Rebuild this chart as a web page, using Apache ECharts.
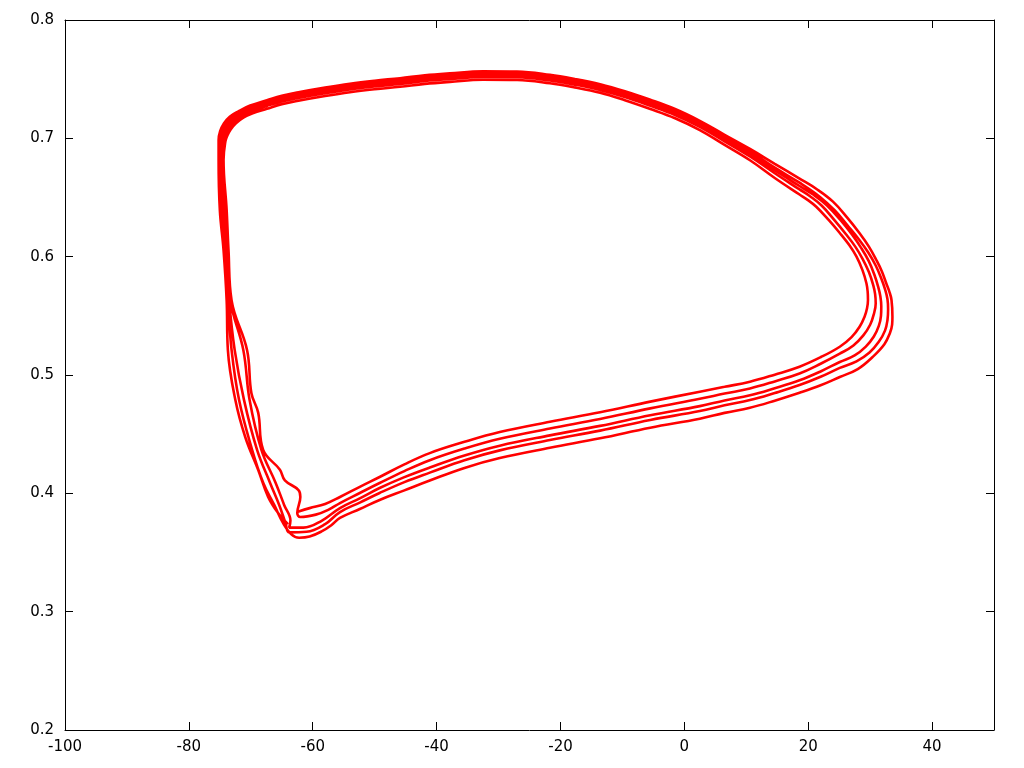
<!DOCTYPE html>
<html>
<head>
<meta charset="utf-8">
<script src="https://cdn.jsdelivr.net/npm/echarts@6/dist/echarts.min.js"></script>
<style>
html,body{margin:0;padding:0;background:#fff;}
#chart{width:1024px;height:768px;}
</style>
</head>
<body>
<div id="chart"></div>
<script>
// Axis tick labels
const xTicks = [-100, -80, -60, -40, -20, 0, 20, 40];
const yTicks = [0.2, 0.3, 0.4, 0.5, 0.6, 0.7, 0.8];

// Trajectory: one array per loop, [x, y] pairs
const loop1 = [
  [-62.4,0.3845],[-60.5,0.3875],[-58.0,0.391],[-55.6,0.3969],[-52.4,0.4055],[-49.2,0.4138],[-45.2,0.4245],[-41.1,0.434],
  [-35.5,0.4435],[-29.8,0.4518],[-21.7,0.4605],[-13.6,0.4685],[-5.5,0.4775],[2.5,0.4859],[6.5,0.490],[10.6,0.4943],
  [14.6,0.5003],[18.6,0.507],[22.0,0.515],[25.1,0.5239],
  [27.0,0.532],[28.3,0.5408],[29.1,0.5493],[29.5,0.5564],[29.65,0.5634],[29.6,0.5705],[29.4,0.5775],[28.75,0.5888],
  [27.8,0.60],[26.6,0.61],[25.1,0.62],[23.3,0.631],[21.3,0.6422],[19.9,0.648],[18.6,0.6525],
  [14.6,0.6665],[10.6,0.6815],[6.5,0.6945],[2.5,0.707],[-1.5,0.717],[-5.6,0.725],[-9.6,0.7322],[-13.6,0.7385],
  [-17.7,0.743],[-21.7,0.7465],[-27.0,0.7493],[-32.5,0.7495],[-37.85,0.7477],[-41.9,0.746],[-45.9,0.7436],[-50.0,0.7415],
  [-54.0,0.739],[-58.0,0.7358],[-62.1,0.732],[-65.0,0.7288],[-67.4,0.725],
  [-69.7,0.7212],[-71.2,0.7175],[-72.4,0.7127],[-73.25,0.7075],[-73.8,0.7022],[-74.1,0.6975],
  [-74.4,0.682],[-73.9,0.6394],[-73.6,0.6056],[-73.1,0.563],[-70.6,0.521],[-69.9,0.4846],[-68.8,0.468],
  [-68.0,0.4366],[-65.3,0.420],[-64.5,0.411],[-62.3,0.4028],[-62.0,0.397],[-62.5,0.3834]
];
const loop2 = [
  [-62.0,0.380],[-59.5,0.382],[-57.5,0.386],[-55.6,0.3918],[-52.4,0.4003],[-49.2,0.4087],[-45.2,0.4188],[-41.1,0.428],
  [-35.5,0.4378],[-29.8,0.4461],[-21.7,0.4548],[-13.6,0.4628],[-5.5,0.4718],[2.5,0.4799],[6.5,0.4843],[10.6,0.4886],
  [14.6,0.4946],[18.6,0.5013],[22.0,0.5095],[25.1,0.518],
  [27.3,0.525],[28.9,0.5335],[30.0,0.5425],[30.6,0.5515],[30.9,0.5605],[30.8,0.5685],[30.5,0.576],[29.8,0.587],
  [28.8,0.598],[27.6,0.6085],[26.1,0.619],[24.3,0.6305],[22.2,0.643],[20.3,0.651],[18.6,0.6568],
  [14.6,0.6705],[10.6,0.6847],[6.5,0.6975],[2.5,0.7097],[-1.5,0.7197],[-5.6,0.7277],[-9.6,0.7349],[-13.6,0.7409],
  [-17.7,0.7454],[-21.7,0.7489],[-27.0,0.7517],[-32.5,0.7519],[-37.85,0.7501],[-41.9,0.7484],[-45.9,0.746],[-50.0,0.7439],
  [-54.0,0.7414],[-58.0,0.7382],[-62.1,0.7344],[-65.0,0.7312],[-67.4,0.7274],
  [-69.8,0.7231],[-71.4,0.7188],[-72.65,0.7141],[-73.5,0.7088],[-74.1,0.7031],[-74.4,0.6978],
  [-74.6,0.682],[-74.3,0.6394],[-73.8,0.6056],[-73.3,0.563],[-71.2,0.521],[-70.2,0.479],[-68.3,0.437],
  [-66.0,0.409],[-64.6,0.39],[-63.6,0.377]
];
const loop3 = [
  [-63.8,0.371],[-61.5,0.371],[-58.5,0.377],[-55.6,0.3876],[-52.4,0.3958],[-49.2,0.4045],[-45.2,0.4137],[-41.1,0.4218],
  [-35.5,0.432],[-29.8,0.4403],[-21.7,0.449],[-13.6,0.457],[-5.5,0.466],[2.5,0.4737],[6.5,0.4785],[10.6,0.4828],
  [14.6,0.4888],[18.6,0.4955],[22.0,0.503],[25.1,0.511],
  [27.5,0.5165],[29.3,0.524],[30.6,0.5325],[31.4,0.5415],[31.75,0.55],[31.8,0.558],[31.65,0.5665],[31.3,0.5745],
  [30.7,0.5845],[29.8,0.596],[28.6,0.607],[27.1,0.6185],[25.2,0.631],[23.0,0.6435],[20.8,0.6525],[18.6,0.6597],
  [14.6,0.673],[10.6,0.687],[6.5,0.6995],[2.5,0.7115],[-1.5,0.7215],[-5.6,0.7295],[-9.6,0.7365],[-13.6,0.7425],
  [-17.7,0.747],[-21.7,0.7505],[-27.0,0.7533],[-32.5,0.7535],[-37.85,0.7517],[-41.9,0.75],[-45.9,0.7476],[-50.0,0.7455],
  [-54.0,0.743],[-58.0,0.7398],[-62.1,0.736],[-65.0,0.7328],[-67.4,0.729],
  [-69.9,0.7245],[-71.6,0.720],[-72.9,0.7155],[-73.8,0.710],[-74.4,0.704],[-74.7,0.698],
  [-74.8,0.682],[-74.5,0.6394],[-74.0,0.6056],[-73.5,0.563],[-72.6,0.521],[-71.1,0.479],[-69.0,0.437],
  [-66.9,0.409],[-65.4,0.39],[-64.4,0.375]
];
const loop4 = [
  [-63.8,0.367],[-61.0,0.3675],[-58.0,0.374],[-55.6,0.3842],[-52.4,0.3922],[-49.2,0.4003],[-45.2,0.4095],[-41.1,0.4175],
  [-35.5,0.428],[-29.8,0.4363],[-21.7,0.445],[-13.6,0.453],[-5.5,0.462],[2.5,0.4695],[6.5,0.4745],[10.6,0.4788],
  [14.6,0.4848],[18.6,0.4915],[22.0,0.4985],[25.1,0.506],
  [27.8,0.5115],[29.9,0.519],[31.4,0.528],[32.4,0.5375],[32.8,0.5465],[32.9,0.5555],[32.8,0.564],[32.4,0.5725],
  [31.8,0.5815],[30.9,0.5925],[29.7,0.6035],[28.2,0.6145],[26.4,0.626],[24.3,0.639],[21.9,0.6505],[18.6,0.6625],
  [14.6,0.6752],[10.6,0.689],[6.5,0.7013],[2.5,0.7132],[-1.5,0.7232],[-5.6,0.7312],[-9.6,0.7382],[-13.6,0.7441],
  [-17.7,0.7486],[-21.7,0.7521],[-27.0,0.7549],[-32.5,0.7551],[-37.85,0.7533],[-41.9,0.7516],[-45.9,0.7492],[-50.0,0.7471],
  [-54.0,0.7446],[-58.0,0.7414],[-62.1,0.7376],[-65.0,0.7344],[-67.4,0.7306],
  [-70.0,0.7261],[-71.8,0.7214],[-73.15,0.7169],[-74.1,0.7113],[-74.7,0.705],[-74.95,0.6983],
  [-75.0,0.682],[-74.8,0.6394],[-74.2,0.6056],[-73.7,0.563],[-73.1,0.521],[-71.9,0.479],[-69.8,0.437],
  [-68.0,0.409],[-66.2,0.39],[-64.8,0.375],[-63.5,0.3655]
];
const loop5 = [
  [-62.2,0.3625],[-60.5,0.3635],[-58.5,0.368],[-57.0,0.373],[-55.6,0.3792],[-52.4,0.3868],[-49.2,0.3944],[-45.2,0.4025],
  [-41.1,0.4108],[-35.5,0.4215],[-29.8,0.4298],[-21.7,0.4385],[-13.6,0.4465],[-5.5,0.4555],[2.5,0.4631],[6.5,0.468],
  [10.6,0.4723],[14.6,0.4783],[18.6,0.485],[22.0,0.4913],[25.1,0.4983],
  [28.0,0.505],[30.4,0.5152],[32.3,0.526],[33.2,0.5355],[33.55,0.5425],[33.6,0.5493],[33.45,0.5634],[33.1,0.5705],
  [32.6,0.5775],[31.9,0.5875],[31.0,0.5972],[29.8,0.6085],[28.3,0.6198],[26.3,0.633],[24.0,0.6465],[21.4,0.657],[18.6,0.666],
  [14.6,0.6785],[10.6,0.691],[6.5,0.703],[2.5,0.7148],[-1.5,0.7248],[-5.6,0.7328],[-9.6,0.7398],[-13.6,0.7457],
  [-17.7,0.7502],[-21.7,0.7537],[-27.0,0.7565],[-32.5,0.7567],[-37.85,0.7549],[-41.9,0.7532],[-45.9,0.7508],[-50.0,0.7487],
  [-54.0,0.7462],[-58.0,0.743],[-62.1,0.7392],[-65.0,0.736],[-67.4,0.7322],
  [-70.1,0.7277],[-72.0,0.7228],[-73.4,0.7183],[-74.35,0.7126],[-74.95,0.706],[-75.2,0.6986],
  [-75.2,0.682],[-75.0,0.6394],[-74.4,0.6056],[-73.9,0.563],[-73.7,0.521],[-72.5,0.479],[-70.9,0.4476],
  [-68.8,0.4197],[-67.2,0.397],[-65.6,0.3834],[-64.0,0.374]
];

const trajectory = [].concat(loop1, loop2, loop3, loop4, loop5);

const chart = echarts.init(document.getElementById('chart'), null, {renderer: 'canvas'});
const font = 'DejaVu Sans';
function xAxisCfg(pos, showLabel) {
  return {
    type: 'value', position: pos,
    min: xTicks[0], max: 50, interval: 20,
    axisLine: {show: true, onZero: false, lineStyle: {color: '#000', width: 1}},
    axisTick: {show: true, inside: true, length: 8, lineStyle: {color: '#000', width: 1}},
    axisLabel: {show: showLabel, color: '#000', fontSize: 15, fontFamily: font, margin: 10,
      showMaxLabel: false, formatter: v => (xTicks.indexOf(v) >= 0 ? String(v) : '')},
    splitLine: {show: false}
  };
}
function yAxisCfg(pos, showLabel) {
  return {
    type: 'value', position: pos,
    min: yTicks[0], max: yTicks[yTicks.length - 1], interval: 0.1,
    axisLine: {show: true, onZero: false, lineStyle: {color: '#000', width: 1}},
    axisTick: {show: true, inside: true, length: 8, lineStyle: {color: '#000', width: 1}},
    axisLabel: {show: showLabel, color: '#000', fontSize: 15, fontFamily: font, margin: 11,
      formatter: v => v.toFixed(1)},
    splitLine: {show: false}
  };
}
chart.setOption({
  animation: false,
  backgroundColor: '#fff',
  grid: {left: 65, right: 30, top: 20, bottom: 38, containLabel: false},
  xAxis: [xAxisCfg('bottom', true), xAxisCfg('top', false)],
  yAxis: [yAxisCfg('left', true), yAxisCfg('right', false)],
  series: [{
    type: 'line',
    xAxisIndex: 0, yAxisIndex: 0,
    data: trajectory,
    showSymbol: false, symbol: 'none',
    smooth: 0.4,
    lineStyle: {color: '#ff0000', width: 2.6},
    clip: true
  }]
});
</script>
</body>
</html>
